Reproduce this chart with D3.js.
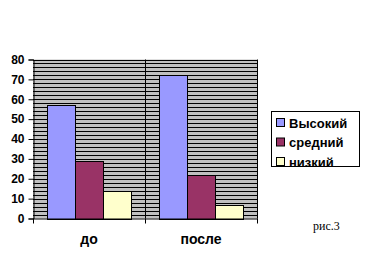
<!DOCTYPE html>
<html><head><meta charset="utf-8">
<script src="https://cdn.jsdelivr.net/npm/d3@7"></script>
<style>body{margin:0;background:#fff}</style>
</head><body>
<svg id="c" width="370" height="269"></svg>
<script>
const categories = ["до", "после"];
const seriesNames = ["Высокий", "средний", "низкий"];
const seriesColors = ["#9999ff", "#993366", "#ffffcc"];
const valuesHigh = [57, 72];
const valuesMid = [29, 22];
const valuesLow = [14, 7];
const yTicks = [0, 10, 20, 30, 40, 50, 60, 70, 80];
const caption = "рис.3";

const series = [valuesHigh, valuesMid, valuesLow];
const svg = d3.select("#c");
const L = 33, R = 257, T = 59.5, B = 218.5;
const x = d3.scaleBand().domain(categories).range([L, R]);
const xi = d3.scaleBand().domain(seriesNames).range([0, x.bandwidth()]).paddingOuter(0.5).paddingInner(0);
const y = d3.scaleLinear().domain([0, 80]).range([B, T]);

// plot background
svg.append("rect").attr("x", L).attr("y", T).attr("width", R - L).attr("height", B - T).attr("fill", "#c0c0c0");
// minor gridlines every 2
const grid = d3.range(2, 81, 2);
svg.append("g").selectAll("line").data(grid).join("line")
  .attr("x1", L).attr("x2", R)
  .attr("y1", d => Math.round(y(d)) + 0.5).attr("y2", d => Math.round(y(d)) + 0.5)
  .attr("stroke", "#000").attr("stroke-width", 1);
// vertical gridline between categories
svg.append("line").attr("x1", x("после") + 0.5).attr("x2", x("после") + 0.5)
  .attr("y1", T).attr("y2", B).attr("stroke", "#000");
// right border
svg.append("line").attr("x1", R + 0.5).attr("x2", R + 0.5).attr("y1", T).attr("y2", B).attr("stroke", "#000");

// bars
series.forEach((vals, si) => {
  svg.append("g").selectAll("rect").data(categories).join("rect")
    .attr("x", c => Math.round(x(c) + xi(seriesNames[si])) + 0.5)
    .attr("y", (c, i) => Math.round(y(vals[i])) + 0.5)
    .attr("width", Math.round(xi.bandwidth()))
    .attr("height", (c, i) => Math.round(B) - Math.round(y(vals[i])))
    .attr("fill", seriesColors[si]).attr("stroke", "#000").attr("stroke-width", 1);
});

// y axis
const yAxis = svg.append("g").attr("transform", `translate(${L + 0.5},0)`)
  .call(d3.axisLeft(y).tickValues(yTicks).tickSize(5).tickPadding(4));
yAxis.select(".domain").attr("stroke", "#000");
yAxis.selectAll("text").attr("font-family", "Arial, 'Liberation Sans', sans-serif")
  .attr("font-size", 12).attr("font-weight", "bold").attr("fill", "#000");

// x axis
svg.append("line").attr("x1", L).attr("x2", R + 1).attr("y1", B + 0.5).attr("y2", B + 0.5).attr("stroke", "#000");
svg.append("g").selectAll("line").data([L, x("после"), R]).join("line")
  .attr("x1", d => d + 0.5).attr("x2", d => d + 0.5).attr("y1", B).attr("y2", B + 5).attr("stroke", "#000");
svg.append("g").selectAll("text").data(categories).join("text")
  .attr("x", c => x(c) + x.bandwidth() / 2).attr("y", 244)
  .attr("text-anchor", "middle")
  .attr("font-family", "Arial, 'Liberation Sans', sans-serif").attr("font-size", 14).attr("font-weight", "bold")
  .text(c => c);

// legend
const lg = svg.append("g");
lg.append("rect").attr("x", 271.5).attr("y", 111.5).attr("width", 88).attr("height", 55)
  .attr("fill", "#fff").attr("stroke", "#000");
seriesNames.forEach((n, i) => {
  const yy = 123 + i * 19.5;
  lg.append("rect").attr("x", 276.5).attr("y", yy - 4.5).attr("width", 8).attr("height", 8)
    .attr("fill", seriesColors[i]).attr("stroke", "#000");
  lg.append("text").attr("x", 289).attr("y", yy + 4.5)
    .attr("font-family", "Arial, 'Liberation Sans', sans-serif").attr("font-size", 13).attr("font-weight", "bold")
    .text(n);
});

svg.append("text").attr("x", 313).attr("y", 230).attr("font-family", "'Times New Roman', 'Liberation Serif', serif")
  .attr("font-size", 12).text(caption);
</script>
</body></html>
